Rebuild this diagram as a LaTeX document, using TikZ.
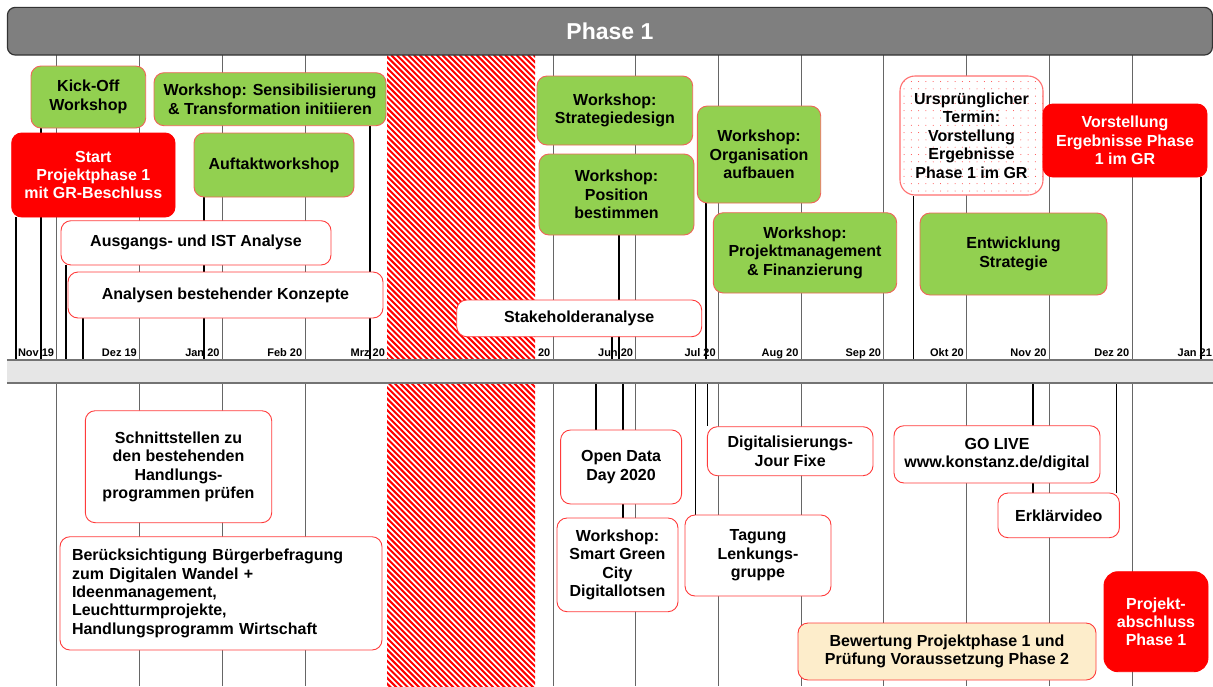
\documentclass[tikz,border=0pt]{standalone}
\usepackage{fontspec}
\setmainfont{Liberation Sans}
\usetikzlibrary{backgrounds}

\definecolor{wsgreen}{HTML}{92D050}
\definecolor{wsedge}{HTML}{F0645A}
\definecolor{boxedge}{HTML}{FF3B3B}
\definecolor{dotedge}{HTML}{FF7070}
\definecolor{cream}{HTML}{FDEDCB}
\definecolor{barfill}{HTML}{7F7F7F}
\definecolor{bandfill}{HTML}{E6E6E6}

\tikzset{
  box/.style={draw=boxedge, line width=0.9pt, fill=white, rounded corners=10pt,
    align=center, inner sep=0pt, font=\fontsize{16}{18.4}\selectfont\bfseries},
  sz/.style 2 args={minimum width=#1pt, minimum height=#2pt},
  wsbox/.style={box, fill=wsgreen, draw=wsedge},
  redbox/.style={box, fill=red, draw=red, text=white},
  dotbox/.style={box, draw=dotedge, line width=1.1pt, rounded corners=15pt, path picture={
    \foreach \dx in {0,...,19} \foreach \dy in {0,...,16}
      \fill[red!75] ([shift={(\dx*7.3pt+4pt,\dy*7.3pt+4pt)}]path picture bounding box.south west) circle (0.5pt);}},
  mline/.style={black!60, line width=0.8pt},
  ev/.style={black, line width=1.6pt},
  mlabel/.style={anchor=base east, inner sep=0pt, font=\fontsize{11}{13}\selectfont\bfseries}
}

\begin{document}
\begin{tikzpicture}[x=1pt,y=-1pt]
\useasboundingbox (0,0) rectangle (1213,686);

% title bar and time axis
\node[draw=black!80, line width=1.2pt, fill=barfill, rounded corners=8pt, sz={1205}{47.7}, text=white,
  font=\fontsize{23}{26}\selectfont\bfseries] (phase) at (609.9,31.2) {Phase 1};
\node[fill=bandfill, sz={1206}{23}, inner sep=0pt] (band) at (610,371.5) {};
\draw[black!55, line width=1.5pt] (band.north west) -- (band.north east);
\draw[black!55, line width=1.5pt] (band.south west) -- (band.south east);

% upper half
\node[wsbox, sz={114.7}{62}] (kickoff) at (88.35,97) {Kick-Off\\Workshop};
\node[wsbox, sz={232}{53}] (sensib) at (270,99.2) {Workshop: Sensibilisierung\\\& Transformation initiieren};
\node[redbox, sz={163.3}{84}] (start) at (93.35,175) {Start\\Projektphase 1\\mit GR-Beschluss};
\node[wsbox, sz={160}{64}] (auftakt) at (274,165) {Auftaktworkshop};
\node[box, sz={270}{44.3}] (ausgang) at (196,242.85) {Ausgangs- und IST Analyse};
\node[box, sz={315}{46}] (analysen) at (225.5,295) {Analysen bestehender Konzepte};
\node[wsbox, sz={155.7}{69}] (stratdesign) at (614.85,110.5) {Workshop:\\Strategiedesign};
\node[wsbox, sz={155}{81}] (position) at (616.5,194.5) {Workshop:\\Position\\bestimmen};
\node[box, sz={245}{36.7}] (stake) at (579.2,318.35) {Stakeholderanalyse};
\node[wsbox, sz={123.4}{97}] (orga) at (759,154.5) {Workshop:\\Organisation\\aufbauen};
\node[wsbox, sz={183.4}{80.3}] (projmgmt) at (805,252.85) {Workshop:\\Projektmanagement\\\& Finanzierung};
\node[dotbox, sz={143}{119}] (urspr) at (971.5,135.5) {Ursprünglicher\\Termin:\\Vorstellung\\Ergebnisse\\Phase 1 im GR};
\node[redbox, sz={164}{73}] (vorst) at (1125,140.5) {Vorstellung\\Ergebnisse Phase\\1 im GR};
\node[wsbox, sz={187}{82}] (entw) at (1013.5,254) {Entwicklung\\Strategie};

% lower half
\node[box, sz={186.4}{112}] (schnitt) at (178.5,466.7) {Schnittstellen zu\\den bestehenden\\Handlungs-\\programmen prüfen};
\node[box, sz={322}{113.3}, align=left, text width=298pt] (buerger) at (221,593.35)
  {Berücksichtigung Bürgerbefragung\\zum Digitalen Wandel +\\Ideenmanagement,\\Leuchtturmprojekte,\\Handlungsprogramm Wirtschaft};
\node[box, sz={121}{74}] (opendata) at (621.1,467) {Open Data\\Day 2020};
\node[box, sz={121}{93.7}] (smartgreen) at (617.5,564.85) {Workshop:\\Smart Green\\City\\Digitallotsen};
\node[box, sz={165.6}{49}] (jourfixe) at (790.2,451.2) {Digitalisierungs-\\Jour Fixe};
\node[box, sz={146}{81}] (tagung) at (758,555.5) {Tagung\\Lenkungs-\\gruppe};
\node[box, sz={206}{57.3}] (golive) at (997,454.35) {GO LIVE\\www.konstanz.de/digital};
\node[box, sz={121.4}{44.7}] (erklaer) at (1058.7,515.35) {Erklärvideo};
\node[box, fill=cream, sz={298}{57}] (bewertung) at (947,651.5) {Bewertung Projektphase 1 und\\Prüfung Voraussetzung Phase 2};
\node[redbox, rounded corners=14pt, sz={104}{100}] (abschluss) at (1156,621.7) {Projekt-\\abschluss\\Phase 1};

\begin{scope}[on background layer]
% months
\foreach \lbl [count=\k from 0] in {Nov 19,Dez 19,Jan 20,Feb 20,Mrz 20,Apr 20,Mai 20,Jun 20,
    Jul 20,Aug 20,Sep 20,Okt 20,Nov 20,Dez 20,Jan 21} {
  \draw[mline] (56.8+82.7*\k,55) -- (56.8+82.7*\k,360);
  \draw[mline] (56.8+82.7*\k,383) -- (56.8+82.7*\k,686);
  \node[mlabel] (m\k) at (54.3+82.7*\k,356) {\lbl};
}
% hatched gap
\begin{scope}
  \clip (387,55) rectangle (535,686);
  \fill[white] (387,55) rectangle (535,686);
  \foreach \k in {0,...,140}
    \draw[red, line width=2pt] (-253+\k*5.7,55) -- ++(640,640);
\end{scope}
% upper event lines
\coordinate (u1) at (15.7,360);
\coordinate (u2) at (40.7,360);
\coordinate (u3) at (65.7,360);
\coordinate (u4) at (82.7,360);
\coordinate (u5) at (204,360);
\coordinate (u6) at (370,360);
\coordinate (u7) at (612,360);
\coordinate (u8) at (618.7,360);
\coordinate (u9) at (706,360);
\coordinate (u10) at (913.3,360);
\coordinate (u11) at (1201,360);
\draw[ev] (u1) -- (u1 |- start.south);
\draw[ev] (u2) -- (u2 |- kickoff.south);
\draw[ev] (u3) -- (u3 |- ausgang.south);
\draw[ev] (u4) -- (u4 |- analysen.south);
\draw[ev] (u5) -- (u5 |- auftakt.south);
\draw[ev] (u6) -- (u6 |- sensib.south);
\draw[ev] (u7) -- (u7 |- stake.south);
\draw[ev] (u8) -- (u8 |- position.south);
\draw[ev] (u9) -- (u9 |- orga.south);
\draw[ev] (u10) -- (u10 |- urspr.south);
\draw[ev] (u11) -- (u11 |- vorst.south);
% lower event lines
\coordinate (l1) at (595.8,383);
\coordinate (l2) at (622.8,383);
\coordinate (l3) at (695.4,383);
\coordinate (l4) at (707.4,383);
\coordinate (l5) at (1032.7,383);
\coordinate (l6) at (1116.4,383);
\draw[ev] (l1) -- (l1 |- opendata.north);
\draw[ev] (l2) -- (l2 |- smartgreen.north);
\draw[ev] (l3) -- (l3 |- tagung.north);
\draw[ev] (l4) -- (l4 |- jourfixe.north);
\draw[ev] (l5) -- (l5 |- erklaer.north);
\draw[ev] (l6) -- (l6 |- erklaer.north);
\end{scope}
\end{tikzpicture}
\end{document}
